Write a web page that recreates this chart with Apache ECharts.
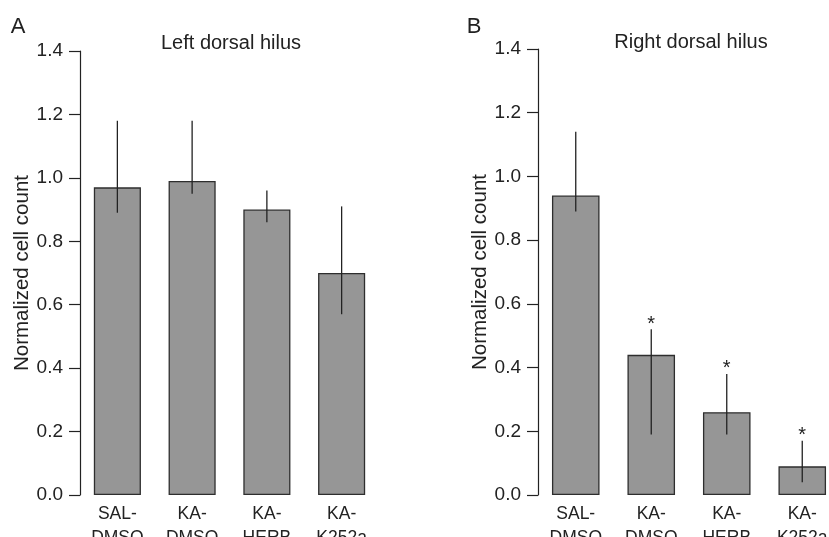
<!DOCTYPE html>
<html>
<head>
<meta charset="utf-8">
<script src="https://cdn.jsdelivr.net/npm/echarts@6/dist/echarts.min.js"></script>
<style>
  html, body { margin: 0; padding: 0; background: #fff; }
  #chart { width: 829px; height: 537px; }
</style>
</head>
<body>
<div id="chart"></div>
<script>
  // groups on the x axis (same in both panels)
  var categories = ['SAL-\nDMSO', 'KA-\nDMSO', 'KA-\nHERB', 'KA-\nK252a']

  // A: left dorsal hilus
  var leftMeans = [0.97, 0.99, 0.90, 0.70]
  var leftErrHigh = [1.18, 1.18, 0.96, 0.91]
  var leftErrLow = [0.89, 0.95, 0.86, 0.57]
  var leftStars = ['', '', '', '']

  // B: right dorsal hilus
  var rightMeans = [0.94, 0.44, 0.26, 0.09]
  var rightErrHigh = [1.14, 0.52, 0.38, 0.17]
  var rightErrLow = [0.89, 0.19, 0.19, 0.04]
  var rightStars = ['', '*', '*', '*']

  var yMin = 0, yMax = 1.4, yStep = 0.2

  var FONT = '"Liberation Sans", Arial, Helvetica, sans-serif'
  var INK = '#222'

  function errData(lows, highs) {
    var out = []
    for (var i = 0; i < lows.length; i++) {
      out.push([i, lows[i], highs[i]])
    }
    return out
  }

  function errSeries(idx, lows, highs, stars) {
    return {
      type: 'custom',
      xAxisIndex: idx,
      yAxisIndex: idx,
      z: 5,
      silent: true,
      data: errData(lows, highs),
      renderItem: function (params, api) {
        var lo = api.coord([api.value(0), api.value(1)])
        var hi = api.coord([api.value(0), api.value(2)])
        var children = [{
          type: 'line',
          shape: { x1: lo[0], y1: lo[1], x2: hi[0], y2: hi[1] },
          style: { stroke: INK, lineWidth: 1.3 }
        }]
        var star = stars[params.dataIndex]
        if (star) {
          children.push({
            type: 'text',
            x: hi[0],
            y: hi[1] + 5,
            style: {
              text: star, align: 'center', verticalAlign: 'bottom',
              fontSize: 20, fontFamily: FONT, fill: INK
            }
          })
        }
        return { type: 'group', children: children }
      }
    }
  }

  function barSeries(idx, values) {
    return {
      type: 'bar',
      xAxisIndex: idx,
      yAxisIndex: idx,
      data: values,
      barCategoryGap: '37%',
      itemStyle: { color: '#969696', borderColor: '#2e2e2e', borderWidth: 1.3 },
      silent: true
    }
  }

  function xAxisFor(idx) {
    return {
      type: 'category',
      gridIndex: idx,
      data: categories,
      axisLine: { show: false },
      axisTick: { show: false },
      axisLabel: {
        interval: 0, margin: 7, fontSize: 17.5, lineHeight: 24,
        color: INK, fontFamily: FONT
      }
    }
  }

  function yAxisFor(idx) {
    return {
      type: 'value',
      gridIndex: idx,
      min: yMin,
      max: yMax,
      interval: yStep,
      name: 'Normalized cell count',
      nameLocation: 'middle',
      nameGap: 46,
      nameTextStyle: { fontSize: 20.5, color: INK, fontFamily: FONT },
      axisLine: { show: true, lineStyle: { color: INK, width: 1.2 } },
      axisTick: { show: true, length: 11, lineStyle: { color: INK, width: 1.2 } },
      splitLine: { show: false },
      axisLabel: {
        margin: 17, fontSize: 19, color: INK, fontFamily: FONT,
        formatter: function (v) { return v.toFixed(1) }
      }
    }
  }

  function label(text, x, y, size) {
    return {
      type: 'text', x: x, y: y, silent: true,
      style: {
        text: text, align: 'center', verticalAlign: 'middle',
        fontSize: size, fontFamily: FONT, fill: INK
      }
    }
  }

  var chart = echarts.init(document.getElementById('chart'))
  chart.setOption({
    animation: false,
    backgroundColor: '#fff',
    grid: [
      { left: 80, top: 51, width: 299, height: 444, outerBoundsMode: 'none' },
      { left: 538, top: 49, width: 302, height: 446, outerBoundsMode: 'none' }
    ],
    xAxis: [xAxisFor(0), xAxisFor(1)],
    yAxis: [yAxisFor(0), yAxisFor(1)],
    series: [
      barSeries(0, leftMeans),
      errSeries(0, leftErrLow, leftErrHigh, leftStars),
      barSeries(1, rightMeans),
      errSeries(1, rightErrLow, rightErrHigh, rightStars)
    ],
    graphic: [
      label('A', 18, 27, 22),
      label('B', 474, 27, 22),
      label('Left dorsal hilus', 231, 43, 20),
      label('Right dorsal hilus', 691, 42, 20)
    ]
  })
</script>
</body>
</html>
